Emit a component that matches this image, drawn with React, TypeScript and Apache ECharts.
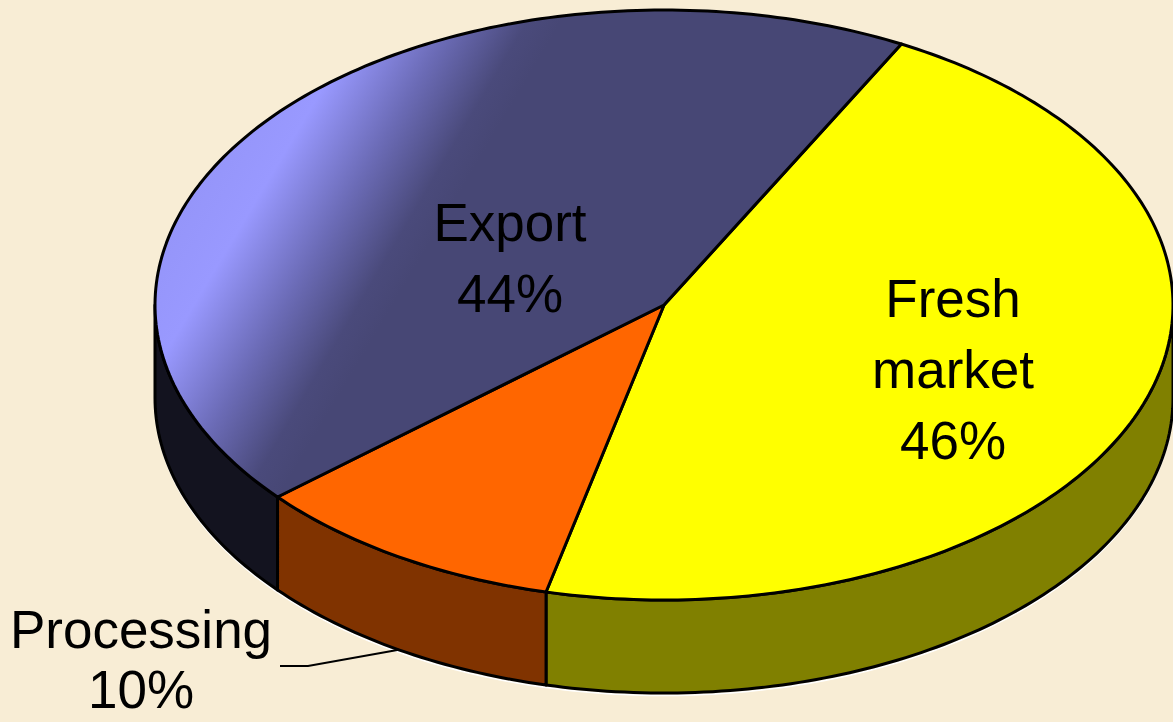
import React, { useEffect, useRef } from "react";
import * as echarts from "echarts";

// ---- data ----
const categories = ["Fresh market", "Processing", "Export"];
const labelNames = ["Fresh\nmarket", "Processing", "Export"];
const values = [46, 10, 44];

// ---- styles ----
const topColors = ["#FFFF00", "#FF6600", "EXPORT_GRADIENT"];
const sideColors = ["#808000", "#803300", "#13131F"];
const BG = "#F8EDD5";
const CX = 664;
const CY = 305;
const RX = 509;
const RY = 295;
const DEPTH = 93;
const START_DEG = -62.2;
const FONT_SIZE = 53;
// label anchors (block centres), line spacing and leader line elbows (style only)
const labelPos: number[][] = [
  [953, 369],
  [141, 659],
  [510, 258],
];
const labelLineHeight = [71, 60, 71];
const leaderElbow: (number[][] | null)[] = [null, [[308, 666], [280, 666]], null];
const FONT = '"Liberation Sans", Arial, sans-serif';

const total = values.reduce((a, b) => a + b, 0);
function sliceRange(i: number): [number, number] {
  let acc = 0;
  for (let j = 0; j < i; j++) acc += values[j];
  const a1 = (START_DEG * Math.PI) / 180 + (acc / total) * Math.PI * 2;
  const a2 = a1 + (values[i] / total) * Math.PI * 2;
  return [a1, a2];
}
function pt(a: number, dz: number): number[] {
  return [CX + RX * Math.cos(a), CY + RY * Math.sin(a) + dz];
}
function arc(s: number, e: number, dz: number): number[][] {
  const n = Math.max(2, Math.ceil((Math.abs(e - s) * 180) / Math.PI));
  const out: number[][] = [];
  for (let k = 0; k <= n; k++) out.push(pt(s + ((e - s) * k) / n, dz));
  return out;
}

export default function App() {
  const ref = useRef<HTMLDivElement>(null);
  useEffect(() => {
    document.body.style.margin = "0";
    const chart = echarts.init(ref.current!, undefined, { renderer: "svg" });
    const exportGradient = new echarts.graphic.LinearGradient(
      165,
      210,
      375,
      335,
      [
        { offset: 0, color: "#9494F8" },
        { offset: 0.3, color: "#9999FF" },
        { offset: 0.62, color: "#6B6BB6" },
        { offset: 0.88, color: "#4A4A7B" },
        { offset: 1, color: "#474775" },
      ],
      true
    );
    const data = values.map((v, i) => ({ name: categories[i], value: v }));
    chart.setOption({
      animation: false,
      backgroundColor: BG,
      series: [
        {
          type: "custom",
          name: "sides",
          coordinateSystem: "none",
          z: 2,
          silent: true,
          data,
          renderItem: (params: any, api: any) => {
            const i = params.dataIndex;
            const [a1, a2] = sliceRange(i);
            const children: any[] = [];
            for (const off of [-2 * Math.PI, 0, 2 * Math.PI]) {
              const s = Math.max(a1, off);
              const e = Math.min(a2, off + Math.PI);
              if (e > s) {
                const top = arc(s, e, 0);
                const bot = arc(e, s, DEPTH);
                children.push({
                  type: "polyline",
                  z2: 0,
                  shape: { points: arc(s, e, DEPTH + 2.5) },
                  style: { stroke: "#FFFFFF", lineWidth: 1.5, fill: null },
                });
                children.push({
                  type: "polygon",
                  z2: 1,
                  shape: { points: top.concat(bot) },
                  style: {
                    fill: sideColors[i],
                    stroke: "#000",
                    lineWidth: 3,
                    lineJoin: "round",
                  },
                });
              }
            }
            return { type: "group", children };
          },
        },
        {
          type: "custom",
          name: "tops",
          coordinateSystem: "none",
          z: 3,
          silent: true,
          data,
          renderItem: (params: any, api: any) => {
            const i = params.dataIndex;
            const [a1, a2] = sliceRange(i);
            const v = api.value(0);
            const pct = Math.round((v / total) * 100) + "%";
            const pts = [[CX, CY]].concat(arc(a1, a2, 0));
            const children: any[] = [
              {
                type: "polygon",
                z2: 5,
                shape: { points: pts },
                style: {
                  fill: topColors[i] === "EXPORT_GRADIENT" ? exportGradient : topColors[i],
                  stroke: "#000",
                  lineWidth: 3,
                  lineJoin: "round",
                },
              },
            ];
            const lines = (labelNames[i] + "\n" + pct).split("\n");
            const lh = labelLineHeight[i];
            lines.forEach((ln, k) => {
              children.push({
                type: "text",
                z2: 20,
                x: labelPos[i][0],
                y: labelPos[i][1] + (k - (lines.length - 1) / 2) * lh,
                style: {
                  text: ln,
                  fill: "#000",
                  fontSize: FONT_SIZE,
                  fontFamily: FONT,
                  lineHeight: FONT_SIZE,
                  align: "center",
                  verticalAlign: "middle",
                },
              });
            });
            const elbow = leaderElbow[i];
            if (elbow) {
              const mid = (a1 + a2) / 2;
              children.push({
                type: "polyline",
                z2: 20,
                shape: { points: [pt(mid, DEPTH)].concat(elbow) },
                style: { stroke: "#000", lineWidth: 2, fill: null },
              });
            }
            return { type: "group", children };
          },
        },
      ],
    });
    return () => chart.dispose();
  }, []);
  return <div ref={ref} style={{ width: 1173, height: 722 }} />;
}
